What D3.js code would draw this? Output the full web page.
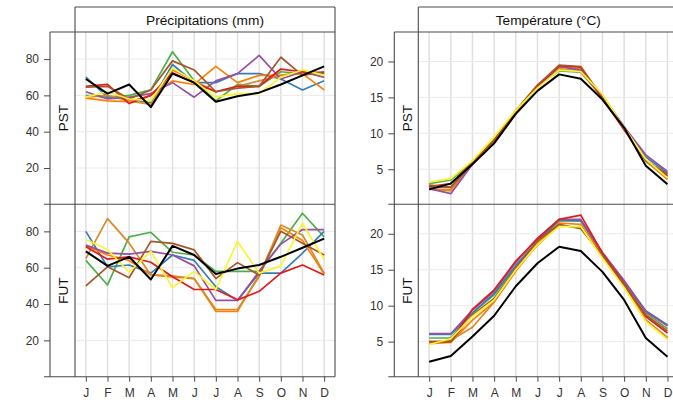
<!DOCTYPE html>
<html><head><meta charset="utf-8">
<script src="https://cdn.jsdelivr.net/npm/d3@7"></script>
<style>body{margin:0;background:#fff}svg{display:block;font-family:"Liberation Sans",Arial,sans-serif}</style>
</head><body><svg id="c" width="673" height="400"></svg>
<script>
const months = ["J","F","M","A","M","J","J","A","S","O","N","D"];
const seriesNames = ["green","blue","orange","ochre","purple","red","brown","yellow","obs"];
const seriesColors = ["#4DAF4A","#377EB8","#FF7F00","#D88A2C","#984EA3","#E41A1C","#A65628","#F7F531","#000000"];
const panelTitles = ["Précipitations (mm)","Température (°C)"];
const rowLabels = ["PST","FUT"];
const precipTicks = [20,40,60,80];
const tempTicks = [5,10,15,20];

// Precipitation, present (PST)
const precipPST_green  = [60, 59, 60, 63, 84, 68, 57, 66, 65, 73, 72, 72];
const precipPST_blue   = [70, 59, 58, 56, 77, 67, 67, 72, 72, 69, 63, 68];
const precipPST_orange = [58.5, 57, 56.5, 60, 68, 66, 76, 67, 71, 71, 72, 63];
const precipPST_ochre  = [59, 60, 57, 55, 74, 68, 62, 65, 68, 71, 73, 70];
const precipPST_purple = [62, 58, 59, 61, 67, 59, 68, 72, 82, 69, 73, 70];
const precipPST_red    = [65, 66, 55.5, 60, 72.5, 67, 62, 65, 65, 74.5, 73, 72.5];
const precipPST_brown  = [64.5, 65, 58, 63, 79, 74, 62, 64, 65, 81, 71, 73];
const precipPST_yellow = [59, 62, 58, 57, 75, 68, 59, 61, 61, 70, 74, 71];
const precipObs        = [69, 61, 66, 53.5, 72, 67, 56.5, 59.5, 61.5, 66, 71, 76];

// Precipitation, future (FUT)
const precipFUT_green  = [64, 50.5, 77, 79.5, 68.5, 67, 58, 58, 58, 73.5, 90, 77];
const precipFUT_blue   = [80, 60.5, 61.5, 57, 67, 64, 49.5, 42, 57, 57, 68, 80];
const precipFUT_orange = [72, 67, 64, 56, 55, 54, 36, 36, 56, 82, 75, 56.5];
const precipFUT_ochre  = [65, 87, 73.5, 56, 55.5, 54, 37, 37, 55, 83.5, 78, 57];
const precipFUT_purple = [72.5, 68, 67.5, 69, 67, 61, 42, 42, 58, 73, 81, 81];
const precipFUT_red    = [71.5, 64.7, 66, 63, 55, 48, 48, 42.3, 47, 57, 61.5, 56];
const precipFUT_brown  = [50, 60.5, 54.5, 74.5, 73.4, 69.8, 54, 62.8, 56, 80, 73.5, 67];
const precipFUT_yellow = [75.5, 70, 57.5, 69, 49, 58, 48, 74.4, 57, 61, 84.5, 64.5];

// Temperature, present (PST)
const tempPST_green  = [3.0, 3.5, 6.0, 9.2, 13.0, 16.5, 18.7, 18.5, 15.0, 10.6, 6.3, 4.2];
const tempPST_blue   = [2.5, 2.5, 5.8, 8.8, 12.9, 16.4, 18.9, 18.7, 15.2, 10.8, 6.7, 4.5];
const tempPST_orange = [2.2, 2.2, 5.9, 9.0, 13.1, 16.6, 19.2, 19.0, 15.0, 10.6, 6.2, 3.6];
const tempPST_ochre  = [2.3, 2.0, 5.8, 9.1, 13.2, 16.7, 19.0, 18.5, 15.1, 10.5, 6.1, 3.7];
const tempPST_purple = [2.3, 1.6, 5.7, 8.9, 12.9, 16.5, 19.3, 18.8, 15.3, 10.9, 7.0, 4.7];
const tempPST_red    = [2.6, 3.0, 5.9, 9.0, 13.0, 16.6, 19.4, 19.2, 14.8, 10.5, 6.3, 4.0];
const tempPST_brown  = [2.8, 2.5, 5.8, 9.0, 13.1, 16.7, 19.5, 19.3, 15.0, 10.7, 6.2, 4.3];
const tempPST_yellow = [3.2, 3.7, 6.2, 9.5, 13.2, 16.3, 18.8, 18.6, 15.4, 10.8, 6.4, 3.8];
const tempObs        = [2.2, 3.0, 5.7, 8.6, 12.7, 15.9, 18.2, 17.6, 14.7, 10.8, 5.5, 2.9];

// Temperature, future (FUT)
const tempFUT_green  = [5.5, 5.5, 9.0, 11.5, 15.4, 18.9, 21.8, 21.8, 17.2, 13.3, 9.0, 6.8];
const tempFUT_blue   = [6.0, 6.0, 9.0, 11.7, 15.6, 19.0, 21.9, 21.8, 17.3, 13.4, 9.3, 7.3];
const tempFUT_orange = [4.7, 4.9, 8.0, 10.5, 14.8, 18.6, 21.5, 21.3, 17.0, 12.8, 8.0, 5.5];
const tempFUT_ochre  = [4.8, 5.2, 7.0, 10.5, 15.0, 18.4, 21.2, 20.8, 16.8, 12.6, 8.0, 5.6];
const tempFUT_purple = [6.1, 6.1, 9.4, 12.0, 16.0, 19.4, 22.0, 22.0, 17.4, 13.5, 9.2, 7.2];
const tempFUT_red    = [5.0, 5.0, 9.5, 12.2, 16.2, 19.3, 22.0, 22.6, 17.3, 13.0, 8.5, 6.2];
const tempFUT_brown  = [5.0, 5.0, 8.7, 11.0, 15.2, 19.0, 21.3, 20.7, 17.0, 12.9, 8.7, 6.5];
const tempFUT_yellow = [4.6, 5.4, 8.5, 10.8, 15.0, 18.5, 21.0, 21.0, 16.6, 12.5, 7.8, 5.3];

const data = {
  precip: {
    PST: [precipPST_green, precipPST_blue, precipPST_orange, precipPST_ochre, precipPST_purple, precipPST_red, precipPST_brown, precipPST_yellow, precipObs],
    FUT: [precipFUT_green, precipFUT_blue, precipFUT_orange, precipFUT_ochre, precipFUT_purple, precipFUT_red, precipFUT_brown, precipFUT_yellow, precipObs]
  },
  temp: {
    PST: [tempPST_green, tempPST_blue, tempPST_orange, tempPST_ochre, tempPST_purple, tempPST_red, tempPST_brown, tempPST_yellow, tempObs],
    FUT: [tempFUT_green, tempFUT_blue, tempFUT_orange, tempFUT_ochre, tempFUT_purple, tempFUT_red, tempFUT_brown, tempFUT_yellow, tempObs]
  }
};

const svg = d3.select("#c");
const stripTop = 7, plotTop = 32, rowMid = 204.3, plotBottom = 376.7;
const rows = [[plotTop, rowMid], [rowMid, plotBottom]];
const cols = [
  {key:"precip", axisX:50, stripX:75, right:335, domain:[0, 94.9], ticks:precipTicks, title:panelTitles[0]},
  {key:"temp", axisX:394.3, stripX:418.3, right:678.3, domain:[0.12, 24.1], ticks:tempTicks, title:panelTitles[1]}
];
const frame = "#4a4a4a";

cols.forEach(c => {
  const g = svg.append("g");
  const x = d3.scaleLinear().domain([0.5, 12.5]).range([c.stripX, c.right]);
  rowLabels.forEach((rl, ri) => {
    const [t, b] = rows[ri];
    const y = d3.scaleLinear().domain(c.domain).range([b, t]);
    g.append("g").selectAll("line").data(d3.range(1, 13)).join("line")
      .attr("x1", d => x(d)).attr("x2", d => x(d)).attr("y1", t).attr("y2", b)
      .attr("stroke", "#e0e0e0").attr("stroke-width", 1.5);
    g.append("g").selectAll("line").data(c.ticks).join("line")
      .attr("x1", c.stripX).attr("x2", c.right).attr("y1", d => y(d)).attr("y2", d => y(d))
      .attr("stroke", "#ebebeb").attr("stroke-width", 1);
    const line = d3.line().x((d, i) => x(i + 1)).y(d => y(d));
    const sers = data[c.key][rl];
    g.append("g").selectAll("path").data(sers).join("path")
      .attr("d", d => line(d)).attr("fill", "none")
      .attr("stroke", (d, i) => seriesColors[i])
      .attr("stroke-width", (d, i) => i === sers.length - 1 ? 2 : 1.7)
      .attr("stroke-linejoin", "round");
    const ax = g.append("g").attr("transform", `translate(${c.axisX},0)`)
      .call(d3.axisLeft(y).tickValues(c.ticks).tickSize(6).tickPadding(5));
    ax.select(".domain").remove();
    ax.selectAll(".tick line").attr("stroke", frame);
    ax.selectAll("text").attr("font-size", 12).attr("fill", "#333").attr("font-family", "Liberation Sans, Arial, sans-serif");
    g.append("text").attr("transform", `translate(${(c.axisX + c.stripX) / 2 + 1},${(t + b) / 2}) rotate(-90)`)
      .attr("text-anchor", "middle").attr("dominant-baseline", "central")
      .attr("font-size", 13.5).attr("fill", "#111").text(rl);
  });
  const xa = g.append("g").attr("transform", `translate(0,${plotBottom})`)
    .call(d3.axisBottom(x).tickValues(d3.range(1, 13)).tickFormat((d, i) => months[i]).tickSize(5).tickPadding(7));
  xa.select(".domain").remove();
  xa.selectAll(".tick line").attr("stroke", frame);
  xa.selectAll("text").attr("font-size", 12).attr("fill", "#333").attr("font-family", "Liberation Sans, Arial, sans-serif");
  const fl = (x1, y1, x2, y2) => g.append("line").attr("x1", x1).attr("y1", y1).attr("x2", x2).attr("y2", y2)
    .attr("stroke", frame).attr("stroke-width", 1.1);
  fl(c.stripX, stripTop, c.right, stripTop);
  fl(c.axisX, plotTop, c.right, plotTop);
  fl(c.axisX - 6, rowMid, c.right, rowMid);
  fl(c.axisX - 6, plotBottom, c.right, plotBottom);
  fl(c.axisX, plotTop, c.axisX, plotBottom);
  fl(c.stripX, stripTop, c.stripX, plotBottom);
  fl(c.right, stripTop, c.right, plotBottom);
  g.append("text").attr("x", (c.stripX + c.right) / 2).attr("y", (stripTop + plotTop) / 2 + 0.5)
    .attr("text-anchor", "middle").attr("dominant-baseline", "central")
    .attr("font-size", 13.7).attr("fill", "#111").text(c.title);
});
</script></body></html>
